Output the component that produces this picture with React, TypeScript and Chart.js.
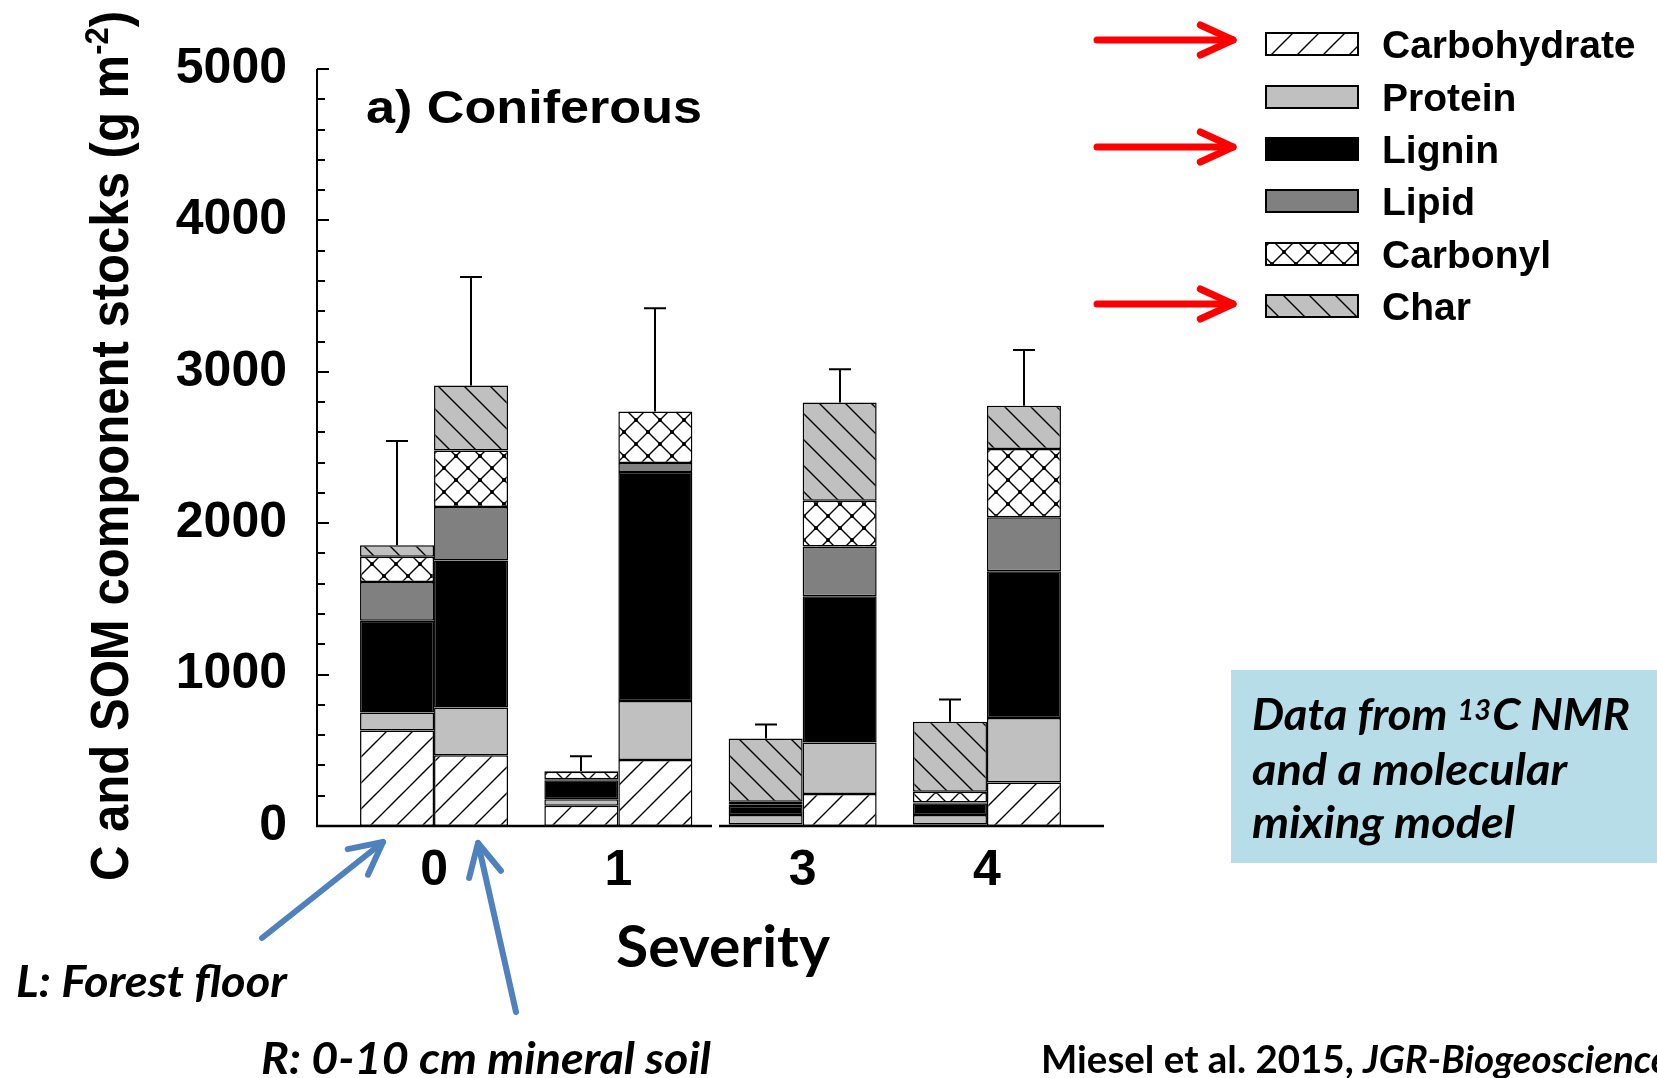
import React, { useEffect, useRef } from 'react';
import { Chart, registerables } from 'chart.js';
Chart.register(...registerables);

// ---------------- data ----------------
const severityLabels = ['0', '1', '3', '4'];
const groupPositions = [0, 1, 2, 3];
const componentNames = ['Carbohydrate', 'Protein', 'Lignin', 'Lipid', 'Carbonyl', 'Char'];
const highlighted = ['Carbohydrate', 'Lignin', 'Char'];

// L: forest floor
const carbohydrateL = [631, 134, 10, 10];
const proteinL = [119, 42, 63, 62];
const ligninL = [605, 127, 59, 78];
const lipidL = [257, 5, 8, 5];
const carbonylL = [167, 50, 20, 71];
const charL = [75, 5, 418, 462];
const errorL = [689, 98, 92, 147];

// R: 0-10 cm mineral soil
const carbohydrateR = [467, 436, 211, 288];
const proteinR = [315, 389, 341, 426];
const ligninR = [971, 1514, 966, 969];
const lipidR = [354, 58, 328, 356];
const carbonylR = [373, 341, 303, 451];
const charR = [429, 0, 648, 285];
const errorR = [717, 681, 220, 369];

const yTickValues = [0, 1000, 2000, 3000, 4000, 5000];

const seriesL = [carbohydrateL, proteinL, ligninL, lipidL, carbonylL, charL];
const seriesR = [carbohydrateR, proteinR, ligninR, lipidR, carbonylR, charR];

// ---------------- styling ----------------
const ARIAL = '"Liberation Sans", Arial, Helvetica, sans-serif';
const CALIBRI = 'Lato, "Open Sans", "Noto Sans", sans-serif';

function makePattern(kind: string): CanvasPattern | string {
  if (kind === 'protein') return '#c0c0c0';
  if (kind === 'lignin') return '#000000';
  if (kind === 'lipid') return '#808080';
  const s = kind === 'carbonyl' ? 24 : 26;
  const c = document.createElement('canvas');
  c.width = s;
  c.height = s;
  const g = c.getContext('2d')!;
  g.fillStyle = kind === 'char' ? '#c0c0c0' : '#ffffff';
  g.fillRect(0, 0, s, s);
  g.strokeStyle = '#000';
  g.lineWidth = 1.4;
  const fslash = () => {
    g.beginPath();
    g.moveTo(-2, s + 2); g.lineTo(s + 2, -2);
    g.moveTo(-2, 2); g.lineTo(2, -2);
    g.moveTo(s - 2, s + 2); g.lineTo(s + 2, s - 2);
    g.stroke();
  };
  const bslash = () => {
    g.beginPath();
    g.moveTo(-2, -2); g.lineTo(s + 2, s + 2);
    g.moveTo(s - 2, -2); g.lineTo(s + 2, 2);
    g.moveTo(-2, s - 2); g.lineTo(2, s + 2);
    g.stroke();
  };
  if (kind === 'carbohydrate') fslash();
  if (kind === 'char') bslash();
  if (kind === 'carbonyl') {
    fslash();
    bslash();
    g.fillStyle = '#000';
    [[s / 2, s / 2], [0, 0], [s, 0], [0, s], [s, s]].forEach(([px, py]) => {
      g.beginPath();
      g.arc(px, py, 2, 0, Math.PI * 2);
      g.fill();
    });
  }
  return g.createPattern(c, 'repeat')!;
}

function drawFitted(ctx: CanvasRenderingContext2D, text: string, x: number, y: number, font: string, width?: number) {
  ctx.save();
  ctx.font = font;
  ctx.textAlign = 'left';
  ctx.textBaseline = 'alphabetic';
  const w = ctx.measureText(text).width;
  const sx = width ? width / w : 1;
  ctx.translate(x, y);
  ctx.scale(sx, 1);
  ctx.fillText(text, 0, 0);
  ctx.restore();
}

function drawArrow(ctx: CanvasRenderingContext2D, x0: number, y0: number, x1: number, y1: number, color: string, lw: number, armLen: number, armAngle: number) {
  const ang = Math.atan2(y1 - y0, x1 - x0);
  ctx.save();
  ctx.strokeStyle = color;
  ctx.lineWidth = lw;
  ctx.lineCap = 'round';
  ctx.lineJoin = 'round';
  ctx.beginPath();
  ctx.moveTo(x0, y0);
  ctx.lineTo(x1, y1);
  ctx.stroke();
  ctx.beginPath();
  ctx.moveTo(x1 - armLen * Math.cos(ang - armAngle), y1 - armLen * Math.sin(ang - armAngle));
  ctx.lineTo(x1, y1);
  ctx.lineTo(x1 - armLen * Math.cos(ang + armAngle), y1 - armLen * Math.sin(ang + armAngle));
  ctx.stroke();
  ctx.restore();
}

const decorPlugin = {
  id: 'decor',
  afterDatasetsDraw(chart: any) {
    const ctx: CanvasRenderingContext2D = chart.ctx;
    const ys = chart.scales.y;
    const area = chart.chartArea;
    ctx.save();
    ctx.strokeStyle = '#000';
    // error bars (positive only)
    const stacks = [
      { series: seriesL, err: errorL, lastIdx: 2 * (componentNames.length - 1) },
      { series: seriesR, err: errorR, lastIdx: 2 * (componentNames.length - 1) + 1 },
    ];
    ctx.lineWidth = 2;
    stacks.forEach((st) => {
      const meta = chart.getDatasetMeta(st.lastIdx);
      groupPositions.forEach((_, j) => {
        const total = st.series.reduce((s, arr) => s + arr[j], 0);
        const el = meta.data[j];
        if (!el) return;
        const cx = Math.round(el.x);
        const yTop = ys.getPixelForValue(total);
        const yErr = ys.getPixelForValue(total + st.err[j]);
        ctx.beginPath();
        ctx.moveTo(cx, yTop);
        ctx.lineTo(cx, yErr);
        ctx.moveTo(cx - 11, yErr);
        ctx.lineTo(cx + 11, yErr);
        ctx.stroke();
      });
    });
    // axes
    const left = area.left;
    const bottom = area.bottom;
    ctx.lineWidth = 2;
    ctx.beginPath();
    ctx.moveTo(left, area.top);
    ctx.lineTo(left, bottom + 1);
    ctx.stroke();
    for (let v = 0; v <= 5000; v += 200) {
      const py = Math.round(ys.getPixelForValue(v));
      const len = v % 1000 === 0 ? 12 : 8;
      ctx.beginPath();
      ctx.moveTo(left, py);
      ctx.lineTo(left + len, py);
      ctx.stroke();
    }
    ctx.lineWidth = 2.5;
    ctx.beginPath();
    ctx.moveTo(left - 1, bottom);
    ctx.lineTo(712, bottom);
    ctx.moveTo(719, bottom);
    ctx.lineTo(area.right, bottom);
    ctx.stroke();
    ctx.restore();
  },
  afterDraw(chart: any) {
    const ctx: CanvasRenderingContext2D = chart.ctx;
    ctx.save();
    ctx.fillStyle = '#000';

    // panel title
    drawFitted(ctx, 'a) Coniferous', 366, 123, `bold 46px ${ARIAL}`, 336);

    // y axis title (rotated, with superscript)
    {
      const mainT = 'C and SOM component stocks (g m';
      const supT = '-2';
      const closeT = ')';
      const fMain = `bold 54px ${ARIAL}`;
      const fSup = `bold 34px ${ARIAL}`;
      ctx.font = fMain;
      const w1 = ctx.measureText(mainT).width;
      const w3 = ctx.measureText(closeT).width;
      ctx.font = fSup;
      const w2 = ctx.measureText(supT).width;
      const total = w1 + w2 + w3;
      const sc = 870 / total;
      ctx.save();
      ctx.translate(128, 881);
      ctx.rotate(-Math.PI / 2);
      ctx.scale(sc, 1);
      ctx.textBaseline = 'alphabetic';
      ctx.textAlign = 'left';
      ctx.font = fMain;
      ctx.fillText(mainT, 0, 0);
      ctx.font = fSup;
      ctx.fillText(supT, w1, -20);
      ctx.font = fMain;
      ctx.fillText(closeT, w1 + w2, 0);
      ctx.restore();
    }

    // legend
    const rowCenters = [44, 97, 149, 201, 254, 306];
    componentNames.forEach((name, k) => {
      const ds = chart.data.datasets[2 * k];
      const cy = rowCenters[k];
      ctx.fillStyle = ds.backgroundColor;
      ctx.fillRect(1266, cy - 11, 92, 22);
      ctx.strokeStyle = '#000';
      ctx.lineWidth = 2;
      ctx.strokeRect(1266, cy - 11, 92, 22);
      ctx.fillStyle = '#000';
      drawFitted(ctx, name, 1382, cy + 14, `bold 39px ${ARIAL}`);
      if (highlighted.includes(name)) {
        drawArrow(ctx, 1097, cy - 4 + (k === 0 ? 0 : 2), 1233, cy - 4 + (k === 0 ? 0 : 2), '#ff0000', 7, 36, 0.43);
      }
    });

    // x axis title
    ctx.fillStyle = '#000';
    drawFitted(ctx, 'Severity', 616, 967, `bold 58px ${CALIBRI}`, 214);

    // layer labels and arrows
    drawFitted(ctx, 'L: Forest floor', 16, 997, `italic bold 44px ${CALIBRI}`, 271);
    drawFitted(ctx, 'R: 0-10 cm mineral soil', 261, 1074, `italic bold 44px ${CALIBRI}`, 450);
    drawArrow(ctx, 262, 938, 383, 842, '#4f81bd', 6, 36, 0.47);
    drawArrow(ctx, 516, 1012, 478, 843, '#4f81bd', 6, 36, 0.47);

    // info box
    ctx.fillStyle = '#b7dde8';
    ctx.fillRect(1231, 670, 426, 193);
    ctx.fillStyle = '#000';
    {
      const f = `italic bold 44px ${CALIBRI}`;
      const fs = `italic bold 28px ${CALIBRI}`;
      ctx.font = f;
      const a = 'Data from ';
      const c = 'C NMR';
      const wa = ctx.measureText(a).width;
      const wc = ctx.measureText(c).width;
      ctx.font = fs;
      const wb = ctx.measureText('13').width + 1;
      const sc = 378 / (wa + wb + wc);
      ctx.save();
      ctx.translate(1252, 730);
      ctx.scale(sc, 1);
      ctx.textBaseline = 'alphabetic';
      ctx.font = f;
      ctx.fillText(a, 0, 0);
      ctx.font = fs;
      ctx.fillText('13', wa, -10);
      ctx.font = f;
      ctx.fillText(c, wa + wb, 0);
      ctx.restore();
      drawFitted(ctx, 'and a molecular', 1252, 785, f, 315);
      drawFitted(ctx, 'mixing model', 1252, 838, f, 263);
    }

    // citation
    {
      const f1 = `bold 38px ${CALIBRI}`;
      const f2 = `italic bold 38px ${CALIBRI}`;
      const t1 = 'Miesel et al. 2015, ';
      const t2 = 'JGR-Biogeosciences';
      ctx.font = f1;
      const w1 = ctx.measureText(t1).width;
      const sc = 322 / w1;
      ctx.save();
      ctx.translate(1041, 1073);
      ctx.scale(sc, 1);
      ctx.textBaseline = 'alphabetic';
      ctx.font = f1;
      ctx.fillText(t1, 0, 0);
      ctx.font = f2;
      ctx.fillText(t2, w1, 0);
      ctx.restore();
    }
    ctx.restore();
  },
};

export default function App() {
  const ref = useRef<HTMLCanvasElement>(null);
  useEffect(() => {
    document.body.style.margin = '0';
    const canvas = ref.current!;
    const patterns: Record<string, CanvasPattern | string> = {
      Carbohydrate: makePattern('carbohydrate'),
      Protein: makePattern('protein'),
      Lignin: makePattern('lignin'),
      Lipid: makePattern('lipid'),
      Carbonyl: makePattern('carbonyl'),
      Char: makePattern('char'),
    };
    const datasets: any[] = [];
    componentNames.forEach((name, k) => {
      [
        { stack: 'L', arr: seriesL[k] },
        { stack: 'R', arr: seriesR[k] },
      ].forEach(({ stack, arr }) => {
        datasets.push({
          label: `${name} (${stack})`,
          stack,
          data: groupPositions.map((p, j) => ({ x: p, y: arr[j] })),
          backgroundColor: patterns[name],
          borderColor: '#000',
          borderWidth: 1.5,
          borderSkipped: false,
          inflateAmount: 0,
          barThickness: 74,
        });
      });
    });

    const tickFont = { family: ARIAL, size: 50, weight: 'bold' as const, lineHeight: 1 };
    const chart = new Chart(canvas, {
      type: 'bar',
      data: { datasets },
      plugins: [decorPlugin],
      options: {
        responsive: false,
        animation: false,
        devicePixelRatio: 1,
        layout: { padding: { left: 0, top: 69, right: 553, bottom: 0 } },
        plugins: {
          legend: { display: false },
          tooltip: { enabled: false },
          title: { display: false },
        },
        scales: {
          x: {
            type: 'linear',
            min: -0.635,
            max: 3.635,
            bounds: 'data',
            stacked: true,
            offset: false,
            grid: { display: false, drawTicks: false, offset: false },
            border: { display: false },
            afterBuildTicks: (s: any) => {
              s.ticks = groupPositions.map((v) => ({ value: v }));
            },
            afterFit: (s: any) => {
              s.height = 252;
            },
            ticks: {
              autoSkip: false,
              maxRotation: 0,
              minRotation: 0,
              padding: 20,
              color: '#000',
              font: tickFont,
              callback: (v: any) => {
                const i = groupPositions.indexOf(Number(v));
                return i >= 0 ? severityLabels[i] : '';
              },
            },
          },
          y: {
            min: 0,
            max: 5000,
            stacked: true,
            grid: { display: false, drawTicks: false },
            border: { display: false },
            afterBuildTicks: (s: any) => {
              s.ticks = yTickValues.map((v) => ({ value: v }));
            },
            afterFit: (s: any) => {
              s.width = 317;
            },
            ticks: {
              padding: 30,
              color: '#000',
              font: tickFont,
              callback: (v: any) => String(v),
            },
          },
        },
      } as any,
    });
    return () => chart.destroy();
  }, []);
  return (
    <div style={{ position: 'fixed', left: 0, top: 0, width: 1657, height: 1078, background: '#fff' }}>
      <canvas ref={ref} width={1657} height={1078} style={{ display: 'block', width: 1657, height: 1078 }} />
    </div>
  );
}
